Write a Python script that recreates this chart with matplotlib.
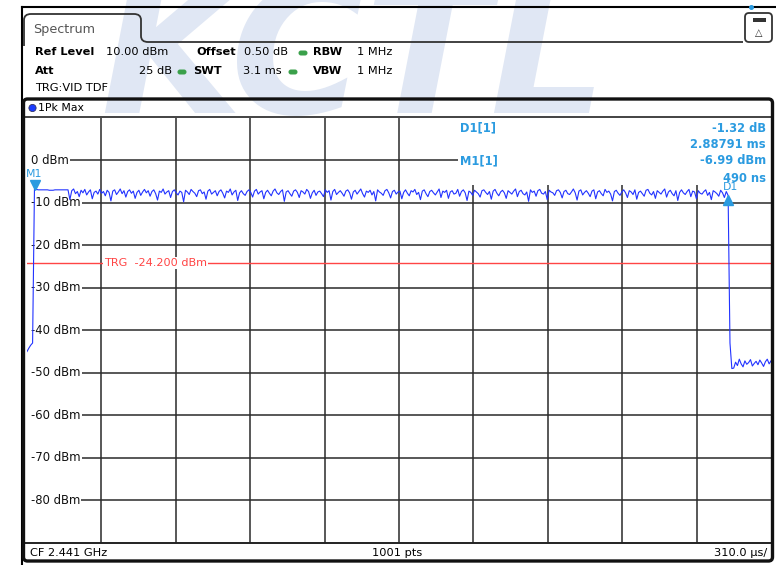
import numpy as np
import matplotlib
matplotlib.use("Agg")
import matplotlib.pyplot as plt
from matplotlib.patches import FancyBboxPatch, Circle, Rectangle
from matplotlib.path import Path
from matplotlib.patches import PathPatch

# ---------------- data ----------------
sweep_start_ms = -0.033
sweep_time_ms = 3.1
y_top_dbm = 10.0
y_bottom_dbm = -90.0
y_tick_values = [0, -10, -20, -30, -40, -50, -60, -70, -80]
y_tick_labels = ["0 dBm", "-10 dBm", "-20 dBm", "-30 dBm", "-40 dBm",
                 "-50 dBm", "-60 dBm", "-70 dBm", "-80 dBm"]
trigger_level_dbm = -24.2

pre_trigger_dbm = [-45.0, -44.2, -43.5, -43.0]
burst_start_dbm = [-6.8, -6.9, -7.0, -7.0, -7.0, -7.0, -7.0, -7.0, -7.1, -7.1,
                   -7.1, -7.0, -7.0, -7.0, -7.0, -7.0, -7.0, -7.0, -7.0]
burst_noise_dbm = [
    -9.3, -7.2, -6.8, -7.9, -7.4, -8.6, -7.1, -7.7, -6.9, -8.2, -7.5, -7.0, -9.1, -7.6, -7.3, -8.0, -6.9, -7.8, -7.4, -8.4,
    -7.1, -7.6, -9.6, -7.3, -7.0, -8.1, -7.5, -6.8, -7.9, -7.2, -8.7, -7.4, -7.0, -7.8, -7.3, -9.0, -7.6, -7.1, -8.3, -7.5,
    -6.9, -7.7, -7.2, -8.5, -7.4, -7.0, -7.9, -9.4, -7.3, -7.6, -6.8, -8.0, -7.5, -7.2, -8.8, -7.4, -7.0, -7.7, -8.2, -7.3,
    -7.6, -9.8, -7.1, -7.5, -8.1, -6.9, -7.4, -7.8, -8.6, -7.2, -7.0, -7.9, -7.5, -9.2, -7.3, -6.9, -8.0, -7.6, -7.2, -8.4,
    -7.4, -7.0, -7.8, -8.9, -7.3, -7.6, -6.8, -8.2, -7.5, -7.1, -9.5, -7.7, -7.2, -7.9, -8.3, -7.4, -7.0, -7.6, -8.7, -7.3,
    -6.9, -8.0, -7.5, -7.2, -9.1, -7.6, -7.1, -7.8, -8.4, -7.3, -6.8, -7.7, -8.1, -7.4, -7.0, -9.7, -7.5, -7.2, -7.9, -8.5,
    -7.3, -7.0, -7.6, -8.8, -7.2, -7.5, -8.0, -6.9, -7.4, -9.0, -7.7, -7.1, -8.3, -7.5, -7.3, -7.9, -8.6, -7.0, -7.6, -7.2,
    -9.4, -7.4, -6.9, -8.1, -7.6, -7.2, -7.8, -8.5, -7.3, -7.0, -7.7, -9.2, -7.5, -7.1, -8.0, -7.4, -6.8, -7.9, -8.7, -7.3,
    -7.6, -7.1, -8.2, -7.4, -9.6, -7.0, -7.5, -7.8, -8.3, -7.2, -6.9, -7.7, -8.9, -7.4, -7.1, -8.0, -7.5, -7.3, -9.1, -7.6,
    -7.0, -7.8, -8.4, -7.2, -7.5, -6.9, -8.1, -7.6, -9.3, -7.3, -7.0, -7.9, -8.6, -7.4, -7.1, -7.7, -8.2, -7.5, -6.8, -8.8,
    -7.3, -7.6, -7.1, -9.0, -7.5, -7.2, -8.0, -7.8, -6.9, -8.5, -7.4, -7.0, -7.7, -9.5, -7.3, -7.6, -8.3, -7.1, -7.5, -7.9,
    -8.7, -7.2, -7.0, -7.6, -8.1, -7.4, -9.2, -7.3, -6.9, -7.8, -8.4, -7.5, -7.1, -7.7, -9.0, -7.2, -7.6, -8.0, -7.3, -6.8,
    -8.6, -7.4, -7.1, -7.9, -8.2, -7.5, -9.7, -7.0, -7.6, -7.3, -8.5, -7.2, -6.9, -7.8, -8.0, -7.4, -9.3, -7.1, -7.5, -7.7,
    -8.3, -7.2, -7.0, -7.6, -8.9, -7.4, -7.1, -7.9, -8.1, -7.5, -6.8, -7.7, -9.4, -7.3, -7.0, -8.2, -7.6, -7.2, -7.8, -8.6,
    -7.3, -7.0, -9.1, -7.5, -7.2, -7.9, -8.4, -6.9, -7.6, -7.3, -8.0, -9.6, -7.4, -7.1, -7.8, -8.3, -7.5, -7.0, -7.7, -8.8,
    -7.2, -7.5, -8.1, -7.0, -9.2, -7.6, -7.3, -7.9, -8.5, -7.1, -6.9, -7.8, -8.2, -7.4, -9.0, -7.2, -7.6, -8.0, -7.3, -6.8,
    -8.7, -7.5, -7.1, -7.9, -8.4, -7.2, -9.5, -7.6, -7.0, -7.7, -8.1, -7.4, -6.9, -8.6, -7.3, -7.5, -9.1, -7.2, -7.8, -8.0,
    -7.4, -7.0, -8.3, -7.6, -9.3, -7.2, -7.5, -7.9, -8.5, -7.1, -7.7, -8.8, -7.4, -8.31,
]
post_burst_dbm = [-43.0, -49.0, -48.9, -47.5, -48.3, -46.8, -47.9, -48.6, -47.2, -48.0, -47.6, -46.9,
                  -48.4, -47.8, -47.3, -48.1, -47.0, -47.7, -48.5, -47.4, -46.8, -47.9, -47.2]

level_dbm = np.array(pre_trigger_dbm + burst_start_dbm + burst_noise_dbm + post_burst_dbm)
time_ms = np.linspace(sweep_start_ms, sweep_start_ms + sweep_time_ms, len(level_dbm))

m1_time_ms, m1_level_dbm = 0.00049, -6.99
d1_time_ms, d1_delta_db = 2.88791, -1.32
d1_level_dbm = m1_level_dbm + d1_delta_db

# ---------------- figure ----------------
W, H = 776, 565
fig = plt.figure(figsize=(W / 100, H / 100), dpi=100)
fig.patch.set_facecolor("white")

# chrome overlay axes in pixel coordinates (y downward)
bg = fig.add_axes([0, 0, 1, 1], zorder=2)
bg.set_xlim(0, W)
bg.set_ylim(H, 0)
bg.axis("off")
bg.patch.set_visible(False)

# watermark
bg.text(100, 113, "KCTL", fontsize=132, fontweight="bold", fontstyle="italic",
        color="#e0e7f4", ha="left", va="baseline", zorder=0)

# top line and left line
bg.plot([22, W], [7, 7], color="black", lw=1.5, zorder=2)
bg.plot([22, 22], [7, H], color="black", lw=1.5, zorder=2)
bg.add_patch(Circle((751.5, 7.5), 1.8, color="#2b9be0", zorder=3))

# Spectrum tab outline
verts = [(24, 46), (24, 20), (24, 14), (31, 14), (134, 14), (141, 14), (141, 20),
         (141, 36), (141, 42), (148, 42), (743, 42)]
codes = [Path.MOVETO, Path.LINETO, Path.CURVE3, Path.CURVE3, Path.LINETO, Path.CURVE3,
         Path.CURVE3, Path.LINETO, Path.CURVE3, Path.CURVE3, Path.LINETO]
bg.add_patch(PathPatch(Path(verts, codes), fill=False, edgecolor="#333333", lw=1.3, zorder=2))
bg.text(33, 29, "Spectrum", fontsize=9.2, color="#555555", va="center", ha="left", zorder=3)

# icon box
bg.add_patch(FancyBboxPatch((745, 13), 27, 29, boxstyle="round,pad=0,rounding_size=4",
                            fill=True, facecolor="white", edgecolor="#333333", lw=1.3, zorder=2))
bg.add_patch(Rectangle((752.5, 18), 13, 4, facecolor="#333333", edgecolor="none", zorder=3))
bg.text(759, 33, "△", fontsize=7, ha="center", va="center", color="#333333", zorder=3)

# header texts
hfs = 8.2
txt_kw = dict(fontsize=hfs, va="center", zorder=3, color="black")
bg.text(35, 52, "Ref Level", fontweight="bold", ha="left", **txt_kw)
bg.text(106, 52, "10.00 dBm", ha="left", **txt_kw)
bg.text(196, 52, "Offset", fontweight="bold", ha="left", **txt_kw)
bg.text(244, 52, "0.50 dB", ha="left", **txt_kw)
bg.text(313, 52, "RBW", fontweight="bold", ha="left", **txt_kw)
bg.text(357, 52, "1 MHz", ha="left", **txt_kw)
bg.text(35, 71, "Att", fontweight="bold", ha="left", **txt_kw)
bg.text(172, 71, "25 dB", ha="right", **txt_kw)
bg.text(193, 71, "SWT", fontweight="bold", ha="left", **txt_kw)
bg.text(282, 71, "3.1 ms", ha="right", **txt_kw)
bg.text(313, 71, "VBW", fontweight="bold", ha="left", **txt_kw)
bg.text(357, 71, "1 MHz", ha="left", **txt_kw)
bg.text(35, 88, "TRG:VID TDF", ha="left", **txt_kw)
for (cx, cy) in [(303, 53), (182, 72), (293, 72)]:
    bg.add_patch(FancyBboxPatch((cx - 4.5, cy - 2.5), 9, 5, boxstyle="round,pad=0,rounding_size=2.5",
                                facecolor="#3aa04a", edgecolor="none", zorder=3))

# diagram box
bg.add_patch(FancyBboxPatch((23.5, 99), 749, 462, boxstyle="round,pad=0,rounding_size=4",
                            fill=False, edgecolor="#111111", lw=2.4, zorder=5))
bg.add_patch(Circle((32.5, 108), 3.6, facecolor="#1a3cff", edgecolor="#333366", lw=0.6, zorder=3))
bg.text(38, 108, "1Pk Max", fontsize=7.8, ha="left", va="center", color="black", zorder=3)
bg.plot([24, 772], [117, 117], color="#222222", lw=1.2, zorder=4)

# footer
bg.plot([24, 772], [543, 543], color="#222222", lw=1.4, zorder=4)
bg.text(30, 553, "CF 2.441 GHz", fontsize=8.2, ha="left", va="center", zorder=3)
bg.text(397, 553, "1001 pts", fontsize=8.2, ha="center", va="center", zorder=3)
bg.text(767, 553, "310.0 µs/", fontsize=8.2, ha="right", va="center", zorder=3)

# ---------------- plot axes ----------------
ax = fig.add_axes([27 / W, 1 - 543 / H, 744 / W, 425.5 / H], zorder=1)
ax.set_facecolor("white")
ax.set_xlim(sweep_start_ms, sweep_start_ms + sweep_time_ms)
ax.set_ylim(y_bottom_dbm, y_top_dbm)
for s in ax.spines.values():
    s.set_visible(False)
ax.set_xticks([])
ax.set_yticks([])

grid_color = "#2a2a2a"
for k in range(1, 10):
    ax.axvline(sweep_start_ms + k * sweep_time_ms / 10, color=grid_color, lw=1.1, zorder=1)
for v, lab in zip(y_tick_values, y_tick_labels):
    ax.axhline(v, xmin=0.02, color=grid_color, lw=1.1, zorder=1)
    ax.text(0.005, v, lab, transform=ax.get_yaxis_transform(), fontsize=8.4, ha="left",
            va="center", color="#111111", zorder=2,
            bbox=dict(facecolor="white", edgecolor="none", pad=1.0))

# white area behind the marker table
ax.add_patch(Rectangle((458, 117), 314, 68, transform=bg.transData, facecolor="white",
                       edgecolor="none", zorder=1.5))

# trigger line
trg_color = "#ff4545"
ax.axhline(trigger_level_dbm, color=trg_color, lw=1.0, zorder=2)
ax.text(0.1035, trigger_level_dbm, "TRG  -24.200 dBm", transform=ax.get_yaxis_transform(),
        fontsize=8.1, color=trg_color, ha="left", va="center", zorder=3,
        bbox=dict(facecolor="white", edgecolor="none", pad=0.8))

# trace
ax.plot(time_ms, level_dbm, color="#2233ff", lw=0.8, zorder=4)

# markers
mk_color = "#2b9be0"
ax.plot([m1_time_ms], [m1_level_dbm + 1.1], marker="v", color=mk_color, markersize=6.5, zorder=5, ls="none")
ax.text(m1_time_ms - 0.004, m1_level_dbm + 3.6, "M1", color=mk_color, fontsize=7.8, ha="center", va="center", zorder=5)
ax.plot([d1_time_ms], [d1_level_dbm - 1.0], marker="^", color=mk_color, markersize=6.5, zorder=5, ls="none")
ax.text(d1_time_ms - 0.02, d1_level_dbm + 2.0, "D1", color=mk_color, fontsize=7.8, ha="left", va="center", zorder=5)

# marker table
tab_kw = dict(color=mk_color, fontsize=8.3, fontweight="bold", va="center", zorder=6)
bg.text(460, 128, "D1[1]", ha="left", **tab_kw)
bg.text(766, 128, "-1.32 dB", ha="right", **tab_kw)
bg.text(766, 144, "2.88791 ms", ha="right", **tab_kw)
bg.text(460, 161, "M1[1]", ha="left", **tab_kw)
bg.text(766, 161, "-6.99 dBm", ha="right", **tab_kw)
bg.text(766, 178, "490 ns", ha="right", **tab_kw)

fig.savefig("out.png", dpi=100)
